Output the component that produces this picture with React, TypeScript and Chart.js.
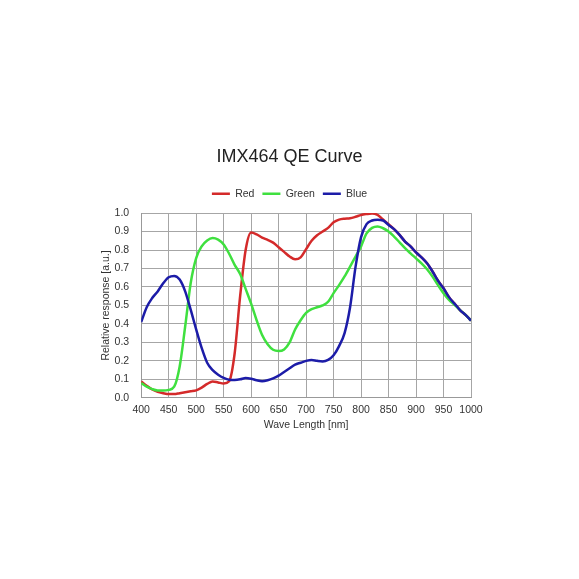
import { useEffect, useRef } from "react";
import { Chart, registerables } from "chart.js";

Chart.register(...registerables);

// wavelength samples [nm]
const wavelengths = [
  400, 410, 420, 430, 440, 450, 460, 470, 480, 490,
  500, 510, 520, 530, 540, 550, 560, 570, 580, 590,
  600, 610, 620, 630, 640, 650, 660, 670, 680, 690,
  700, 710, 720, 730, 740, 750, 760, 770, 780, 790,
  800, 810, 820, 830, 840, 850, 860, 870, 880, 890,
  900, 910, 920, 930, 940, 950, 960, 970, 980, 990, 1000,
];

const redQE = [
  0.088, 0.065, 0.045, 0.032, 0.025, 0.02, 0.02, 0.025, 0.03, 0.035,
  0.04, 0.055, 0.075, 0.088, 0.083, 0.078, 0.09, 0.24, 0.55, 0.8,
  0.895, 0.885, 0.867, 0.855, 0.84, 0.815, 0.79, 0.765, 0.75, 0.76,
  0.805, 0.85, 0.88, 0.9, 0.92, 0.95, 0.965, 0.97, 0.972, 0.98,
  0.99, 0.995, 0.998, 0.99, 0.965, 0.94, 0.913, 0.882, 0.846, 0.82,
  0.787, 0.76, 0.728, 0.684, 0.634, 0.593, 0.545, 0.51, 0.475, 0.449, 0.418,
];

const greenQE = [
  0.08, 0.06, 0.047, 0.04, 0.04, 0.043, 0.06, 0.17, 0.386, 0.62,
  0.756, 0.82, 0.852, 0.865, 0.856, 0.83, 0.78, 0.72, 0.67, 0.59,
  0.51, 0.42, 0.34, 0.29, 0.26, 0.253, 0.262, 0.3, 0.37, 0.42,
  0.46, 0.48, 0.49, 0.5, 0.52, 0.567, 0.61, 0.657, 0.71, 0.765,
  0.82, 0.89, 0.92, 0.928, 0.918, 0.9, 0.873, 0.842, 0.81, 0.782,
  0.755, 0.728, 0.696, 0.656, 0.61, 0.566, 0.53, 0.503, 0.475, 0.449, 0.418,
];

const blueQE = [
  0.41, 0.49, 0.54, 0.576, 0.62, 0.653, 0.66, 0.64, 0.576, 0.477,
  0.37, 0.27, 0.19, 0.15, 0.125, 0.108, 0.098, 0.097, 0.1, 0.107,
  0.103, 0.095, 0.09, 0.095, 0.105, 0.12, 0.14, 0.16, 0.18, 0.19,
  0.2, 0.205, 0.2, 0.197, 0.205, 0.23, 0.28, 0.35, 0.49, 0.71,
  0.87, 0.94, 0.96, 0.964, 0.96, 0.936, 0.913, 0.882, 0.846, 0.82,
  0.787, 0.76, 0.728, 0.684, 0.634, 0.593, 0.545, 0.51, 0.475, 0.449, 0.418,
];

const seriesNames = ["Red", "Green", "Blue"];
const seriesColors = ["#d42a2a", "#3fe03f", "#1c1ca8"];
// blue lies on top of red and green, as in the original plot
const drawOrder = [3, 2, 1];

const FONT = "'Liberation Sans', Arial, sans-serif";

function toPoints(values: number[]) {
  return wavelengths.map((w, i) => ({ x: w, y: values[i] }));
}

// extra room below the legend, and title + legend centred on the whole canvas
const headerTweaks = {
  id: "headerTweaks",
  beforeInit(chart: any) {
    const fit = chart.legend.fit;
    chart.legend.fit = function () {
      fit.call(this);
      this.height += 4;
    };
  },
  afterLayout(chart: any) {
    for (const box of [chart.titleBlock, chart.legend]) {
      if (!box) continue;
      box.left = 0;
      box.right = chart.width;
    }
  },
};

function createQEChart(canvasEl: HTMLCanvasElement): Chart {
  const series = [redQE, greenQE, blueQE];

  return new Chart(canvasEl, {
    type: "line",
    data: {
      datasets: series.map((values, i) => ({
        label: seriesNames[i],
        data: toPoints(values),
        order: drawOrder[i],
        borderColor: seriesColors[i],
        backgroundColor: seriesColors[i],
        borderWidth: 2.5,
        pointRadius: 0,
        cubicInterpolationMode: "monotone" as const,
        pointStyle: "line" as const,
      })),
    },
    plugins: [headerTweaks],
    options: {
      animation: false,
      responsive: true,
      maintainAspectRatio: false,
      layout: {
        padding: { top: 146, left: 94, right: 108, bottom: 144 },
      },
      plugins: {
        title: {
          display: true,
          text: "IMX464 QE Curve",
          color: "#222",
          font: { family: FONT, size: 18, weight: "normal" },
          padding: { top: 0, bottom: 13 },
        },
        legend: {
          labels: {
            usePointStyle: true,
            pointStyleWidth: 18,
            color: "#333",
            padding: 8,
            font: { family: FONT, size: 10.5 },
            sort: (a, b) => (a.datasetIndex ?? 0) - (b.datasetIndex ?? 0),
          },
        },
        tooltip: { enabled: false },
      },
      scales: {
        x: {
          type: "linear",
          min: 400,
          max: 1000,
          // chart.js reserves the tick padding twice; take one back
          afterFit: (scale) => {
            scale.height -= 6;
          },
          ticks: {
            stepSize: 50,
            maxRotation: 0,
            minRotation: 0,
            autoSkip: false,
            color: "#333",
            padding: 6,
            font: { family: FONT, size: 10.5 },
            callback: (v) => String(v),
          },
          grid: { color: "#a6a6a6", drawTicks: false },
          border: { color: "#999" },
          title: {
            display: true,
            text: "Wave Length [nm]",
            color: "#333",
            font: { family: FONT, size: 10.5 },
            padding: { top: 2, bottom: 4 },
          },
        },
        y: {
          min: 0,
          max: 1,
          afterFit: (scale) => {
            scale.width -= 12;
          },
          ticks: {
            stepSize: 0.1,
            color: "#333",
            padding: 12,
            font: { family: FONT, size: 10.5 },
            callback: (v) => Number(v).toFixed(1),
          },
          grid: { color: "#a6a6a6", drawTicks: false },
          border: { color: "#999" },
          title: {
            display: true,
            text: "Relative response [a.u.]",
            color: "#333",
            font: { family: FONT, size: 10.5 },
            padding: { top: 6, bottom: 2 },
          },
        },
      },
    },
  });
}

export default function App() {
  const canvasRef = useRef<HTMLCanvasElement>(null);

  useEffect(() => {
    document.body.style.margin = "0";
    const chart = createQEChart(canvasRef.current!);
    return () => {
      chart.destroy();
    };
  }, []);

  return (
    <div style={{ width: 579, height: 579, position: "relative", background: "#fff" }}>
      <canvas ref={canvasRef}></canvas>
    </div>
  );
}
